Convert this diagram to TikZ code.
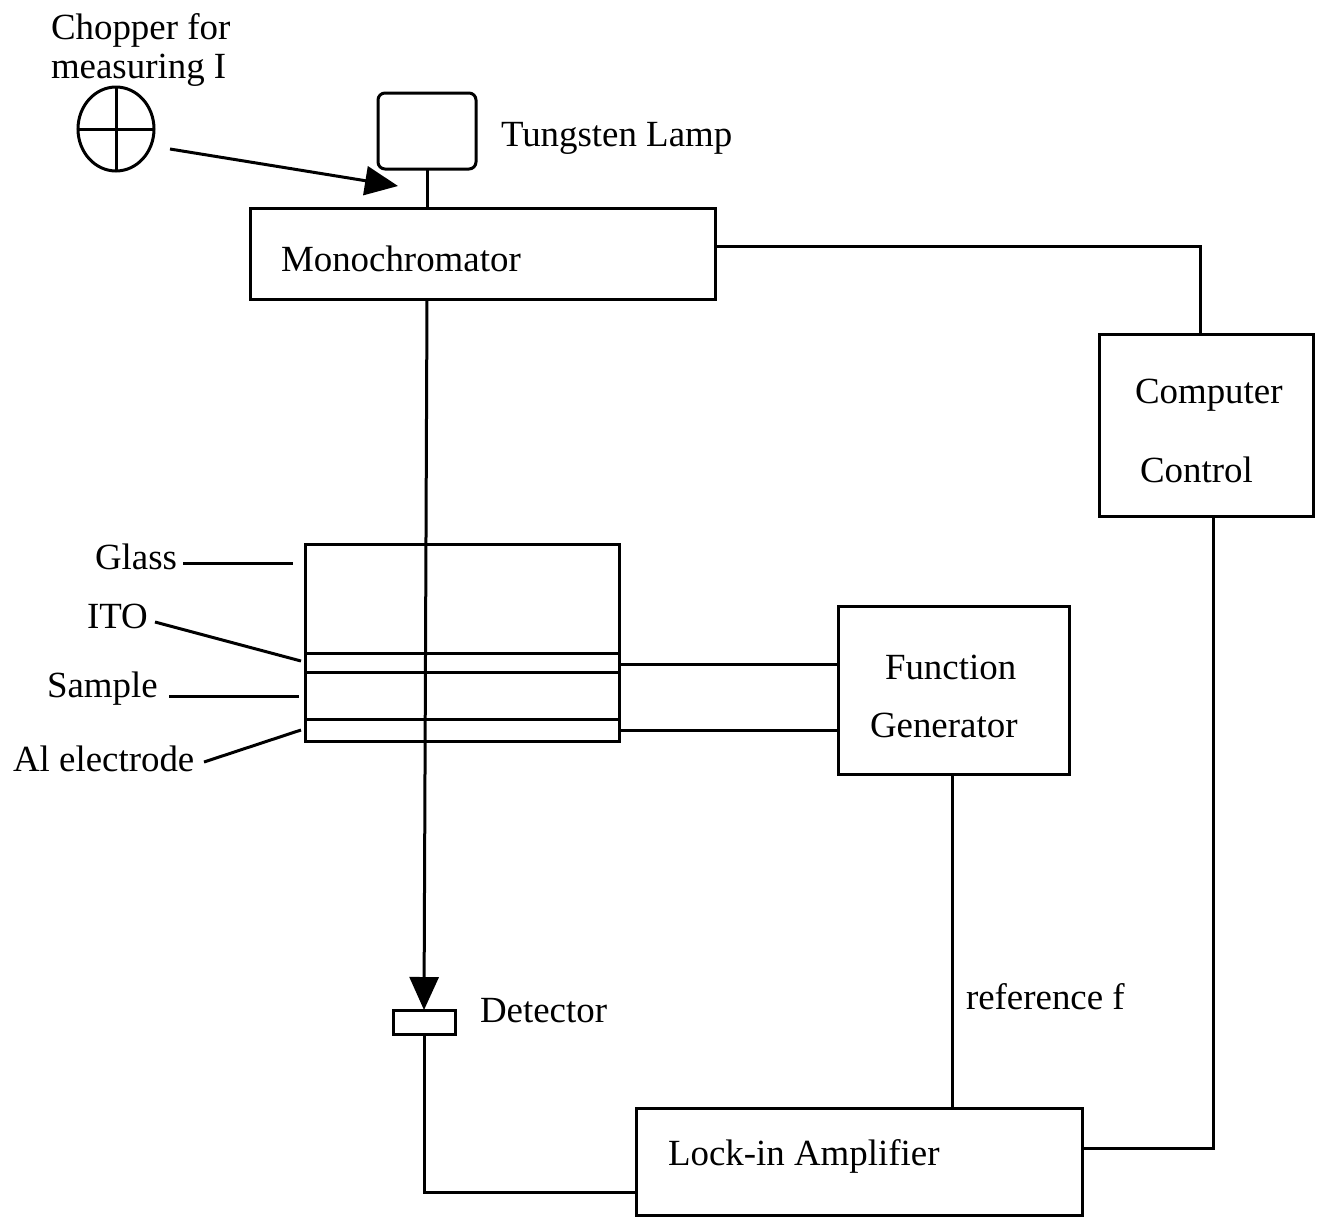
\documentclass[tikz,border=0pt]{standalone}
\usepackage{fontspec}
\setmainfont{Liberation Serif}
\usetikzlibrary{arrows.meta,shapes.geometric}
\tikzset{
  box/.style={draw=black,line width=3pt,rectangle,anchor=north west,inner sep=0pt,outer sep=0pt},
  wire/.style={draw=black,line width=3pt},
  leader/.style={draw=black,line width=3pt},
  lbl/.style={anchor=base west,inner sep=0pt,outer sep=0pt,font=\fontsize{36.9pt}{38pt}\selectfont,text=black},
  headarrow/.style={-{Triangle[length=33pt,width=29pt]}}
}
\begin{document}
\begin{tikzpicture}[x=1pt,y=-1pt]
\useasboundingbox (0,0) rectangle (1319,1216);
% boxes
\node[box,rounded corners=7pt,minimum width=98pt,minimum height=76pt] (lamp) at (378,93) {};
\node[box,minimum width=465pt,minimum height=91pt] (mono) at (250,208) {};
\node[box,minimum width=214pt,minimum height=182pt] (comp) at (1099,334) {};
\node[box,minimum width=231pt,minimum height=168pt] (func) at (838,606) {};
\node[box,minimum width=62pt,minimum height=24pt] (det) at (393,1010) {};
\node[box,minimum width=446pt,minimum height=107pt] (lock) at (636,1108) {};
% sample stack
\node[box,minimum width=314pt,minimum height=109pt] (lglass) at (305,544) {};
\node[box,minimum width=314pt,minimum height=19pt] (lito) at (305,653) {};
\node[box,minimum width=314pt,minimum height=47pt] (lsample) at (305,672) {};
\node[box,minimum width=314pt,minimum height=22pt] (lal) at (305,719) {};
% chopper
\node[draw=black,line width=3pt,ellipse,minimum width=76pt,minimum height=84pt,inner sep=0pt,outer sep=0pt] (chop) at (116,129) {};
\draw[wire] (chop.north) -- (chop.south);
\draw[wire] (chop.west) -- (chop.east);
% labels
\node[lbl] (tchop1) at (51,39) {Chopper for};
\node[lbl] (tchop2) at (51,78) {measuring I};
\node[lbl] (tlamp) at (501,146) {Tungsten Lamp};
\node[lbl] (tmono) at (281,271) {Monochromator};
\node[lbl] (tcomp1) at (1135,403) {Computer};
\node[lbl] (tcomp2) at (1140,482) {Control};
\node[lbl] (tglass) at (95,569) {Glass};
\node[lbl] (tito) at (87,628) {ITO};
\node[lbl] (tsample) at (47,697) {Sample};
\node[lbl] (tal) at (13,771) {Al electrode};
\node[lbl] (tfunc1) at (885,679) {Function};
\node[lbl] (tfunc2) at (870,737) {Generator};
\node[lbl] (tdet) at (480,1022) {Detector};
\node[lbl] (tref) at (966,1009) {reference f};
\node[lbl] (tlock) at (668,1165) {Lock-in Amplifier};
% leader ends
\coordinate (chopstart) at (170,149);
\coordinate (choptip) at (398,186);
\coordinate (g0) at (183,563); \coordinate (g1) at (293,563);
\coordinate (i0) at (155,622); \coordinate (i1) at (301,661);
\coordinate (s0) at (169,696); \coordinate (s1) at (299,696);
\coordinate (a0) at (204,762); \coordinate (a1) at (301,730);
\draw[leader] (g0) -- (g1);
\draw[leader] (i0) -- (i1);
\draw[leader] (s0) -- (s1);
\draw[leader] (a0) -- (a1);
\draw[leader,headarrow] (chopstart) -- (choptip);
% connectors
\coordinate (cin) at (1200,334);
\coordinate (cout) at (1213,516);
\coordinate (lin) at (1082,1148);
\coordinate (f1) at (619,664);
\coordinate (f2) at (619,730);
\coordinate (fout) at (952,774);
\coordinate (lref) at (952,1108);
\coordinate (ldet) at (636,1192);
\draw[wire] (lamp.south) -- (lamp.south |- mono.north);
\draw[wire,headarrow] (lamp.south |- mono.south) -- (det.north);
\draw[wire] ([yshift=7.5pt]mono.east) -| (cin);
\draw[wire] (cout) |- (lin);
\draw[wire] (f1) -- (func.west |- f1);
\draw[wire] (f2) -- (func.west |- f2);
\draw[wire] (fout) -- (lref);
\draw[wire] (det.south) |- (ldet);
\end{tikzpicture}
\end{document}
